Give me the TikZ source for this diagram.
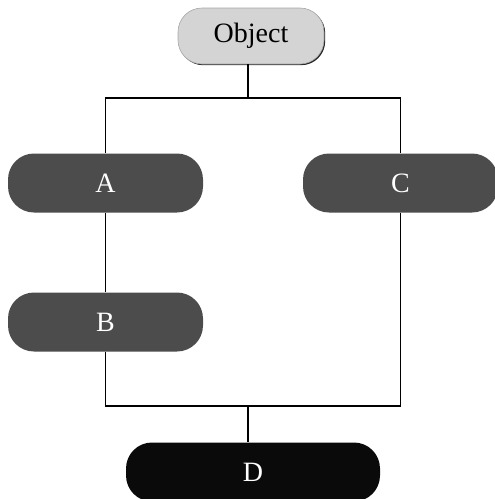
\documentclass[tikz,border=0pt]{standalone}
\usepackage{fontspec}
\setmainfont{Liberation Serif}
\usetikzlibrary{shadows}

\begin{document}
\begin{tikzpicture}[x=1pt, y=-1pt,
        blocco/.style={rounded corners=26pt, minimum width=195pt, minimum height=59pt,
                       fill=black!70, text=white, font=\fontsize{28}{32}\selectfont},
        radice/.style={rounded corners=24pt, minimum width=146pt, minimum height=56pt,
                       fill=black!17, draw=black!35, line width=0.6pt,
                       drop shadow={shadow xshift=1.2pt, shadow yshift=-1.2pt, fill=black!85, opacity=1},
                       font=\fontsize{28}{32}\selectfont}]
        \useasboundingbox (0,0) rectangle (495,499);

        % Nodi
        \node[radice] (O) at (251,36) {Object};
        \node[blocco] (A) at (105.5,183) {A};
        \node[blocco] (C) at (400.5,183) {C};
        \node[blocco] (B) at (105.5,322) {B};
        \node[blocco, fill=black!96, minimum width=254pt] (D) at (253,472) {D};

        \coordinate (j1) at (248,98);
        \coordinate (j2) at (248,406);

        % Archi
        \draw[line width=1.3pt] (j1 |- O.south) -- (j1); % da Object alla barra
        \draw[line width=1.3pt] (A.north) |- (j1) -| (C.north);
        \draw[line width=1.3pt] (A) -- (B);
        \draw[line width=1.3pt] (B.south) |- (j2) -| (C.south);
        \draw[line width=1.3pt] (j2) -- (j2 |- D.north); % dalla barra a D

    \end{tikzpicture}
\end{document}
